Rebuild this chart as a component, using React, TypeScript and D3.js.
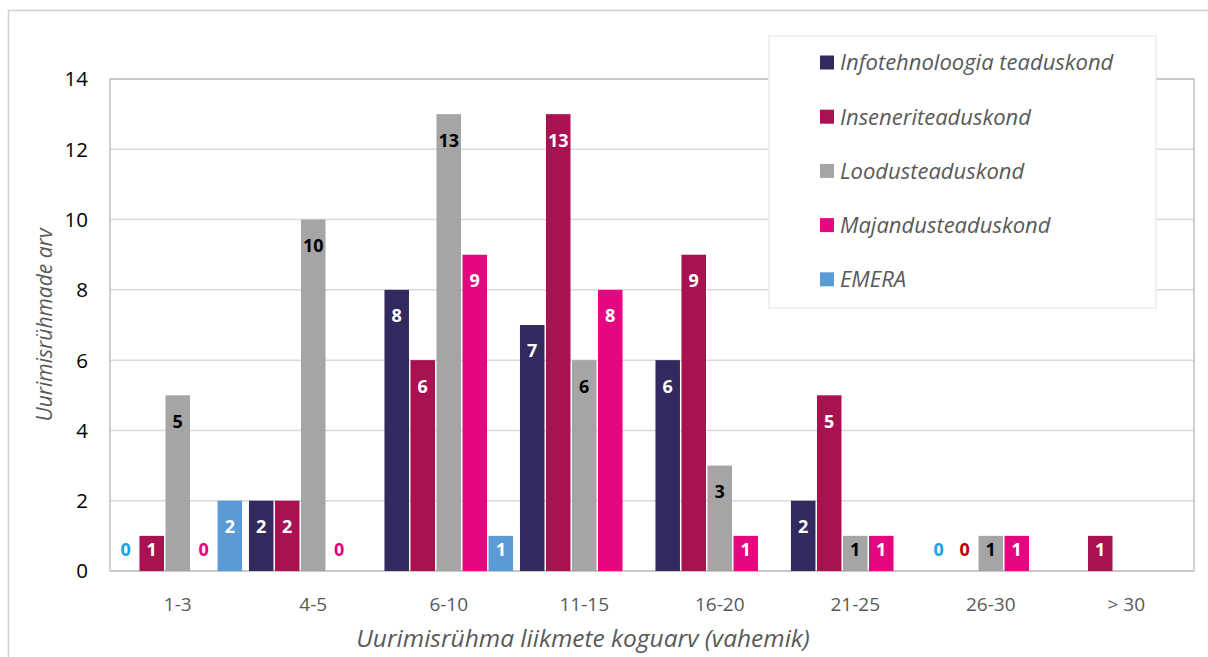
import React from 'react';
import * as d3 from 'd3';

const categories = ['1-3', '4-5', '6-10', '11-15', '16-20', '21-25', '26-30', '> 30'];
const seriesNames = [
  'Infotehnoloogia teaduskond',
  'Inseneriteaduskond',
  'Loodusteaduskond',
  'Majandusteaduskond',
  'EMERA',
];
const itValues: (number | null)[] = [0, 2, 8, 7, 6, 2, 0, null];
const insValues: (number | null)[] = [1, 2, 6, 13, 9, 5, 0, 1];
const loodValues: (number | null)[] = [5, 10, 13, 6, 3, 1, 1, null];
const majValues: (number | null)[] = [0, 0, 9, 8, 1, 1, 1, null];
const emeraValues: (number | null)[] = [2, null, 1, null, null, null, null, null];
const yTicks = [0, 2, 4, 6, 8, 10, 12, 14];
const xTitle = 'Uurimisrühma liikmete koguarv (vahemik)';
const yTitle = 'Uurimisrühmade arv';

const seriesValues = [itValues, insValues, loodValues, majValues, emeraValues];
const seriesColors = ['#322a5e', '#aa1150', '#a5a5a5', '#e4077f', '#5b9bd5'];
const labelColors = ['#ffffff', '#ffffff', '#000000', '#ffffff', '#ffffff'];
const zeroColors = ['#1aa3de', '#c00000', '#000000', '#e5007d', '#1aa3de'];

const W = 1208;
const H = 657;
const FONT = "'Open Sans', sans-serif";

export default function App() {
  const left = 110, right = 1194, top = 79, bottom = 571;
  const x0 = d3.scaleBand<string>().domain(categories).range([left, right]).paddingInner(0).paddingOuter(0);
  const groupW = x0.bandwidth() * 0.96;
  const x1 = d3.scaleBand<number>().domain(d3.range(seriesNames.length)).range([0, groupW]).padding(0);
  const y = d3.scaleLinear().domain([0, 14]).range([bottom, top]);
  const bw = x1.bandwidth();

  const bars: any[] = [];
  const labels: any[] = [];
  categories.forEach((c, ci) => {
    const gx = (x0(c) as number) + (x0.bandwidth() - groupW) / 2;
    seriesValues.forEach((vals, si) => {
      const v = vals[ci];
      if (v === null || v === undefined) return;
      const bx = gx + (x1(si) as number);
      const cx = bx + bw / 2;
      if (v > 0) {
        bars.push(
          <rect key={`b${ci}-${si}`} x={bx + 0.75} y={y(v)} width={bw - 1.5} height={y(0) - y(v)} fill={seriesColors[si]} />
        );
        const ly = v <= 1 ? y(v) + 14 : y(v) + 26;
        labels.push(
          <text key={`l${ci}-${si}`} x={cx} y={ly} dy="0.36em" textAnchor="middle" fontFamily={FONT} fontWeight={700} fontSize={18} fill={labelColors[si]}>{v}</text>
        );
      } else {
        labels.push(
          <text key={`l${ci}-${si}`} x={cx} y={y(0) - 21} dy="0.36em" textAnchor="middle" fontFamily={FONT} fontWeight={700} fontSize={18} fill={zeroColors[si]}>{v}</text>
        );
      }
    });
  });

  const legX = 769, legY = 36, legW = 387, legH = 272;

  return (
    <svg width={W} height={H} style={{ position: 'absolute', left: 0, top: 0 }}>
      <rect x={0} y={0} width={W} height={H} fill="#ffffff" />
      <rect x={8.5} y={10.5} width={W + 10} height={H + 10} fill="none" stroke="#d0d0d0" strokeWidth={1.5} />
      {yTicks.map((t) => (
        <line key={`g${t}`} x1={left} x2={right} y1={y(t)} y2={y(t)} stroke="#d9d9d9" strokeWidth={1.5} />
      ))}
      <rect x={left} y={top} width={right - left} height={bottom - top} fill="none" stroke="#c0c0c0" strokeWidth={1.5} />
      <line x1={left} x2={right} y1={bottom} y2={bottom} stroke="#c8c8c8" strokeWidth={2} />
      {bars}
      {labels}
      {yTicks.map((t) => (
        <text key={`yt${t}`} x={88} y={y(t)} dy="0.36em" textAnchor="end" fontFamily={FONT} fontSize={20.5} fill="#000000">{t}</text>
      ))}
      {categories.map((c) => (
        <text key={`xt${c}`} x={(x0(c) as number) + x0.bandwidth() / 2} y={604} dy="0.36em" textAnchor="middle" fontFamily={FONT} fontSize={19} fill="#595959">{c}</text>
      ))}
      <text x={583} y={638} dy="0.36em" textAnchor="middle" fontFamily={FONT} fontStyle="italic" fontSize={24.5} fill="#595959">{xTitle}</text>
      <text transform={`translate(44,${(top + bottom) / 2}) rotate(-90)`} dy="0.36em" textAnchor="middle" fontFamily={FONT} fontStyle="italic" fontSize={21} fill="#595959">{yTitle}</text>
      <rect x={legX} y={legY} width={legW} height={legH} fill="#ffffff" stroke="#ebebeb" strokeWidth={1.5} />
      {seriesNames.map((n, i) => {
        const cy = 62.5 + i * 54.2;
        return (
          <g key={`lg${i}`}>
            <rect x={820} y={cy - 7} width={14} height={14} fill={seriesColors[i]} />
            <text x={840} y={cy} dy="0.36em" fontFamily={FONT} fontStyle="italic" fontSize={22} fill="#595959">{n}</text>
          </g>
        );
      })}
    </svg>
  );
}
